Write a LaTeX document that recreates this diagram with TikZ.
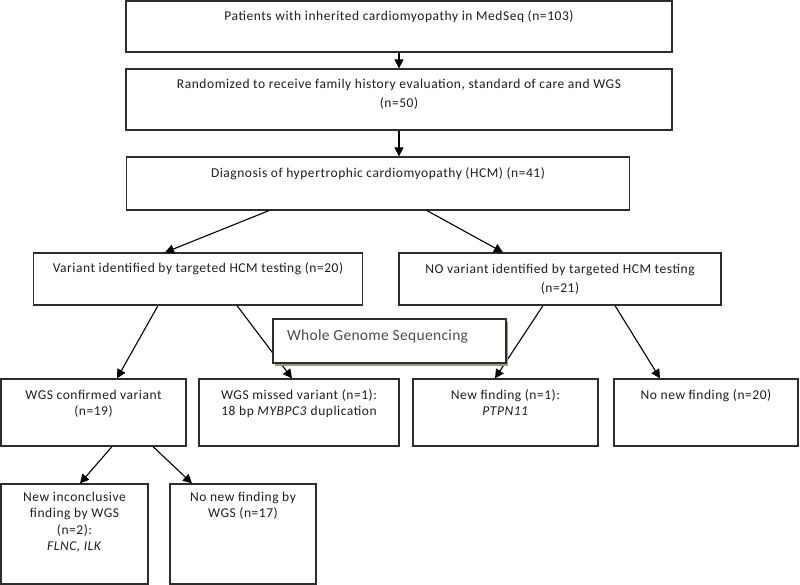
\documentclass[tikz,border=0pt]{standalone}
\usepackage{fontspec}
\setmainfont{Carlito}[LetterSpace=4]
\usetikzlibrary{arrows.meta,shadows}
\newcommand\boxtext[4]{\parbox[c][#2][t]{#1}{\centering\rule{0pt}{#3}#4}}
\definecolor{edge}{RGB}{45,45,45}
\definecolor{shade}{RGB}{150,158,122}
\definecolor{ink}{RGB}{30,30,30}
\begin{document}
\begin{tikzpicture}[x=1pt,y=-1pt,
  box/.style={draw=edge, line width=1.2pt, inner sep=0pt, fill=white, text=ink},
  arr/.style={-{Triangle[length=9pt,width=9pt]}, line width=1.1pt, draw=black},
  fnt/.style={font=\fontsize{13.5}{16.5}\selectfont},
  fntb/.style={font=\fontsize{13.5}{19}\selectfont}]
\useasboundingbox (0,0) rectangle (800,585);
\fill[white] (0,0) rectangle (800,585);

\node[box,fnt] (b1) at (399,26.5) {\boxtext{546pt}{51pt}{20pt}{Patients with inherited cardiomyopathy in MedSeq (n=103)}};
\node[box,fntb] (b2) at (399,99.5) {\boxtext{546pt}{61pt}{20pt}{Randomized to receive family history evaluation, standard of care and WGS\\(n=50)}};
\node[box,fnt] (b3) at (378,183.5) {\boxtext{503pt}{53pt}{21pt}{Diagnosis of hypertrophic cardiomyopathy (HCM) (n=41)}};
\node[box,fntb] (v1) at (198,279) {\boxtext{329pt}{52pt}{19pt}{Variant identified by targeted HCM testing (n=20)}};
\node[box,fntb] (v0) at (560,279) {\boxtext{322pt}{52pt}{20pt}{NO variant identified by targeted HCM testing\\(n=21)}};
\node[box,fnt] (c1) at (93.5,412.5) {\boxtext{185pt}{67pt}{20pt}{WGS confirmed variant\\(n=19)}};
\node[box,fnt] (c2) at (299,412.5) {\boxtext{200pt}{67pt}{20pt}{WGS missed variant (n=1):\\18 bp \textit{MYBPC3} duplication}};
\node[box,fnt] (c3) at (505.5,412.5) {\boxtext{185pt}{67pt}{20pt}{New finding (n=1):\\\textit{PTPN11}}};
\node[box,fnt] (c4) at (706,412.5) {\boxtext{184pt}{67pt}{20pt}{No new finding (n=20)}};
\node[box,fnt] (d1) at (74.5,534) {\boxtext{147pt}{100pt}{17pt}{New inconclusive\\finding by WGS\\(n=2):\\\textit{FLNC, ILK}}};
\node[box,fnt] (d2) at (243,534) {\boxtext{146pt}{100pt}{17pt}{No new finding by\\WGS (n=17)}};

\draw[arr] (b1.south) -- (b2.north);
\draw[arr] (b2.south) -- ([xshift=21pt]b3.north);
\draw[arr] ([xshift=-109pt]b3.south) -- ([xshift=-33pt]v1.north);
\draw[arr] ([xshift=49pt]b3.south) -- ([xshift=-57pt]v0.north);
\draw[arr] ([xshift=-40pt]v1.south) -- ([xshift=23.5pt]c1.north);
\draw[arr] ([xshift=39pt]v1.south) -- ([xshift=-7pt]c2.north);
\draw[arr] ([xshift=-17pt]v0.south) -- ([xshift=-10.5pt]c3.north);
\draw[arr] ([xshift=55pt]v0.south) -- ([xshift=-46pt]c4.north);
\draw[arr] ([xshift=18.5pt]c1.south) -- ([xshift=5.5pt]d1.north);
\draw[arr] ([xshift=59.5pt]c1.south) -- ([xshift=-51pt]d2.north);

\node[box, font=\fontsize{15.5}{18}\selectfont, text=black!70,
  drop shadow={shadow xshift=2pt, shadow yshift=-3pt, fill=shade, opacity=1}]
  (wgs) at (389.5,341) {\parbox[c][44pt][t]{233pt}{\hspace*{14pt}\rule{0pt}{21pt}\addfontfeature{LetterSpace=2}Whole Genome Sequencing}};
\end{tikzpicture}
\end{document}
